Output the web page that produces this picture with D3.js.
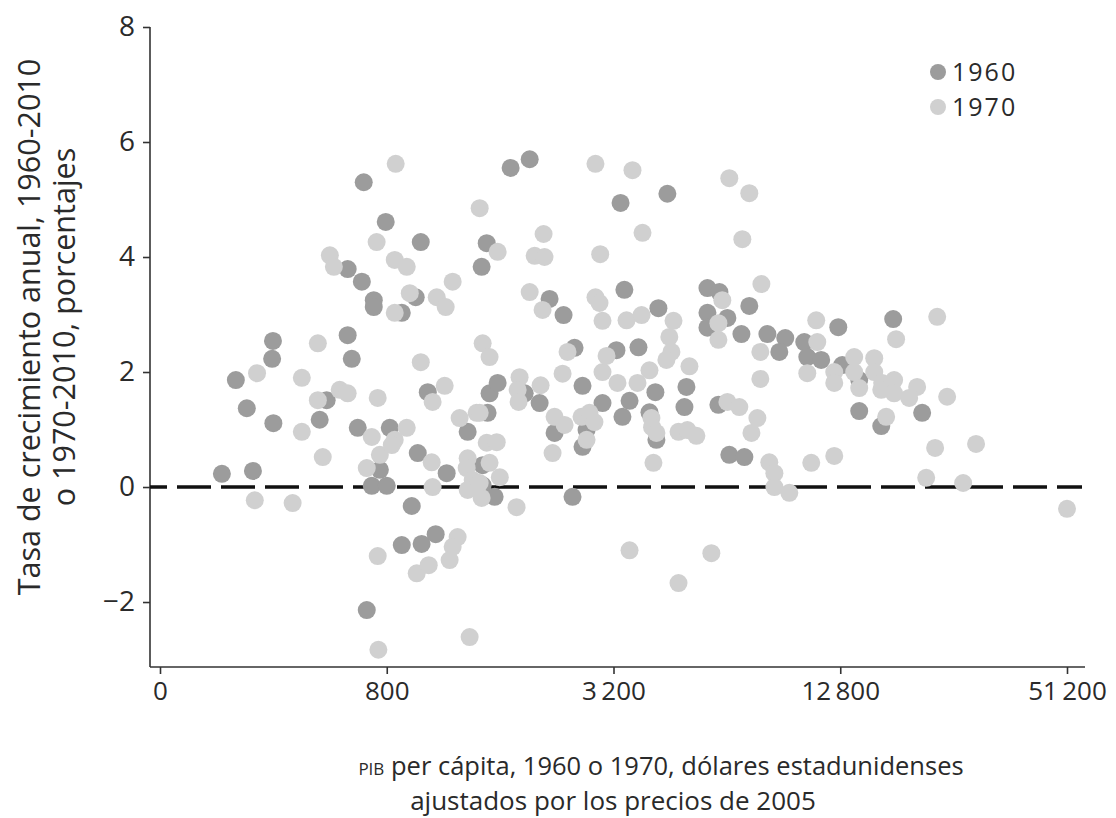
<!DOCTYPE html>
<html>
<head>
<meta charset="utf-8">
<script src="https://cdn.jsdelivr.net/npm/d3@7"></script>
<style>
  body { margin: 0; background: #fff; }
  svg text { font-family: "Open Sans", "Noto Sans", sans-serif; fill: #2a2a2a; }
</style>
</head>
<body>
<div id="chart"></div>
<script>
// PIB per cápita (dólares de 2005) y tasa de crecimiento anual (%)
const points1960 = [
  [292,0.23],[318,1.86],[340,1.37],[353,0.28],[399,2.54],[397,2.23],[400,1.11],[630,2.64],
  [646,2.23],[554,1.51],[531,1.17],[670,1.03],[815,1.03],[767,0.30],[730,0.02],[800,0.02],
  [932,-0.33],[877,-1.01],[990,-0.99],[1079,-0.82],[708,-2.14],[695,5.30],[795,4.61],[985,4.26],
  [630,3.79],[687,3.57],[739,3.25],[739,3.13],[877,3.03],[955,3.30],[1028,1.65],[967,0.59],
  [1154,0.24],[1312,0.96],[1438,0.38],[1438,0.03],[1547,-0.17],[1482,1.29],[1500,1.63],[1576,1.81],
  [1474,4.24],[1429,3.83],[1706,5.55],[1917,5.70],[2165,3.27],[2358,2.99],[1859,1.63],[2037,1.46],
  [2232,0.94],[2491,-0.17],[2522,2.42],[2648,1.76],[2714,0.99],[2648,0.70],[3258,2.38],[2992,1.46],
  [3530,1.50],[3380,1.22],[3420,3.43],[3341,4.94],[4448,5.10],[4211,3.11],[3728,2.43],[4134,1.65],
  [3987,1.30],[4160,0.82],[4998,1.74],[4938,1.39],[5683,3.46],[6115,3.39],[5683,3.03],[6420,2.94],
  [5683,2.77],[7341,3.15],[6995,2.66],[8198,2.66],[9146,2.59],[8819,2.35],[6077,1.43],[6496,0.56],
  [7123,0.52],[10272,2.52],[10464,2.26],[11392,2.21],[12646,2.78],[12956,2.12],[14374,1.86],[14374,1.32],
  [16448,1.06],[17690,2.92],[21120,1.29]
];

const points1970 = [
  [362,1.98],[476,1.90],[525,2.50],[525,1.51],[476,0.96],[541,0.52],[357,-0.23],[450,-0.28],
  [600,1.69],[630,1.63],[757,1.55],[730,0.87],[708,0.33],[767,0.56],[840,0.82],[825,0.73],
  [904,1.03],[757,-1.20],[760,-2.83],[565,4.03],[579,3.83],[845,5.62],[752,4.26],[840,3.95],
  [904,3.83],[921,3.37],[840,3.03],[1086,3.30],[1147,3.13],[1197,3.57],[985,2.17],[1059,1.48],
  [1140,1.76],[1249,1.20],[1386,1.29],[1053,0.43],[1059,0.00],[1312,0.50],[1304,0.33],[1353,0.12],
  [1312,-0.05],[1429,-0.19],[1474,0.77],[1567,0.78],[1500,0.42],[1597,0.17],[1412,0.07],[1769,-0.35],
  [1234,-0.87],[1197,-1.04],[1175,-1.27],[961,-1.50],[1034,-1.36],[1328,-2.61],[1412,4.85],[1576,4.09],
  [1438,2.50],[1500,2.26],[1412,1.29],[1802,1.91],[1781,1.69],[1791,1.48],[2049,1.77],[2087,4.40],
  [1976,4.02],[2099,4.00],[1917,3.39],[2074,3.08],[2232,1.22],[2373,1.08],[2205,0.59],[2344,1.97],
  [2416,2.35],[2632,1.22],[2763,1.29],[2848,1.13],[2714,0.82],[2866,5.62],[2866,3.30],[2938,3.20],
  [2992,2.89],[2950,4.05],[2992,2.00],[3067,2.28],[3279,1.81],[3466,2.90],[3799,2.99],[3706,1.81],
  [3987,2.03],[3594,5.51],[3821,4.42],[4035,1.20],[4051,1.04],[4160,0.94],[4085,0.42],[4618,2.89],
  [4502,2.61],[4560,2.35],[4422,2.21],[5091,2.10],[4762,0.96],[5027,0.99],[5312,0.89],[3530,-1.10],
  [4762,-1.67],[5821,-1.15],[6496,5.37],[7341,5.11],[7034,4.31],[7904,3.53],[6224,3.25],[6077,2.85],
  [6077,2.56],[7853,2.35],[7853,1.88],[6420,1.48],[6906,1.39],[7712,1.20],[7437,0.94],[8294,0.43],
  [8557,0.24],[8557,0.00],[9376,-0.10],[11053,2.90],[11123,2.52],[13939,2.26],[15757,2.24],[10464,1.98],
  [12339,2.00],[13939,2.00],[12339,1.81],[15757,2.00],[16538,1.81],[17792,1.86],[20480,1.74],[24602,1.57],
  [18010,2.57],[23155,2.96],[14374,1.72],[16448,1.69],[17792,1.63],[19507,1.55],[16947,1.22],[22861,0.68],
  [29363,0.75],[10720,0.42],[12339,0.54],[21645,0.16],[27136,0.07],[51200,-0.38]
];

const xTicks = [200, 800, 3200, 12800, 51200];
const xTickLabels = ["0", "800", "3\u2009200", "12\u2009800", "51\u2009200"];
const yTicks = [-2, 0, 2, 4, 6, 8];
const seriesNames = ["1960", "1970"];

const W = 1116, H = 818;
const plot = {left: 150, right: 1085, top: 27, bottom: 667};
const colors = {"1960": "#9c9c9c", "1970": "#d0d0d0"};

const svg = d3.select("#chart").append("svg")
  .attr("width", W)
  .attr("height", H);

const x = d3.scaleLog().base(2)
  .domain([200, 51200])
  .range([160, 1067]);

const y = d3.scaleLinear()
  .domain([-3.13, 8])
  .range([plot.bottom, plot.top]);

// ejes
svg.append("line")
  .attr("x1", plot.left).attr("x2", plot.left)
  .attr("y1", plot.top).attr("y2", plot.bottom)
  .attr("stroke", "#333").attr("stroke-width", 1.6);
svg.append("line")
  .attr("x1", plot.left).attr("x2", plot.right)
  .attr("y1", plot.bottom).attr("y2", plot.bottom)
  .attr("stroke", "#333").attr("stroke-width", 1.6);

const yAxis = svg.append("g")
  .attr("transform", `translate(${plot.left},0)`)
  .call(d3.axisLeft(y).tickValues(yTicks).tickSize(7).tickPadding(8)
    .tickFormat(d => d < 0 ? "\u2212" + Math.abs(d) : d));
yAxis.select(".domain").remove();
yAxis.selectAll("line").attr("stroke", "#333").attr("stroke-width", 1.6);
yAxis.selectAll("text").attr("font-size", 28).attr("fill", "#2a2a2a")
  .style("font-family", "'Open Sans', sans-serif");

const xAxis = svg.append("g")
  .attr("transform", `translate(0,${plot.bottom})`)
  .call(d3.axisBottom(x).tickValues(xTicks).tickSize(7).tickPadding(8)
    .tickFormat((d, i) => xTickLabels[i]));
xAxis.select(".domain").remove();
xAxis.selectAll("line").attr("stroke", "#333").attr("stroke-width", 1.6);
xAxis.selectAll("text").attr("font-size", 26).attr("fill", "#2a2a2a")
  .style("font-family", "'Open Sans', sans-serif");

// linea de cero
svg.append("line")
  .attr("x1", plot.left).attr("x2", plot.right - 3)
  .attr("y1", y(0)).attr("y2", y(0))
  .attr("stroke", "#111").attr("stroke-width", 3.4)
  .attr("stroke-dasharray", "34,10")
  .attr("stroke-dashoffset", 17);

// puntos
const dots = svg.append("g");
dots.selectAll("circle.p60")
  .data(points1960)
  .join("circle")
    .attr("class", "p60")
    .attr("cx", d => x(d[0]))
    .attr("cy", d => y(d[1]))
    .attr("r", 9)
    .attr("fill", colors["1960"]);
dots.selectAll("circle.p70")
  .data(points1970)
  .join("circle")
    .attr("class", "p70")
    .attr("cx", d => x(d[0]))
    .attr("cy", d => y(d[1]))
    .attr("r", 9)
    .attr("fill", colors["1970"]);

// leyenda
const legend = svg.append("g").attr("transform", "translate(938,72)");
seriesNames.forEach((name, i) => {
  legend.append("circle")
    .attr("cx", 0).attr("cy", i * 35)
    .attr("r", 8)
    .attr("fill", colors[name]);
  legend.append("text")
    .attr("x", 14).attr("y", i * 35)
    .attr("dy", "0.36em")
    .attr("font-size", 25)
    .attr("letter-spacing", 2)
    .text(name);
});

// titulos
const yTitle = svg.append("g").attr("transform", "translate(0,327) rotate(-90)");
yTitle.append("text")
  .attr("x", 0).attr("y", 40)
  .attr("text-anchor", "middle")
  .attr("font-size", 30.5)
  .text("Tasa de crecimiento anual, 1960-2010");
yTitle.append("text")
  .attr("x", 0).attr("y", 75)
  .attr("text-anchor", "middle")
  .attr("font-size", 30.5)
  .text("o 1970-2010, porcentajes");

const xTitle = svg.append("text")
  .attr("x", 661).attr("y", 775)
  .attr("text-anchor", "middle")
  .attr("font-size", 25.5);
xTitle.append("tspan").attr("font-size", 17).text("PIB");
xTitle.append("tspan").text(" per cápita, 1960 o 1970, dólares estadunidenses");
svg.append("text")
  .attr("x", 613).attr("y", 810)
  .attr("text-anchor", "middle")
  .attr("font-size", 26)
  .text("ajustados por los precios de 2005");
</script>
</body>
</html>
